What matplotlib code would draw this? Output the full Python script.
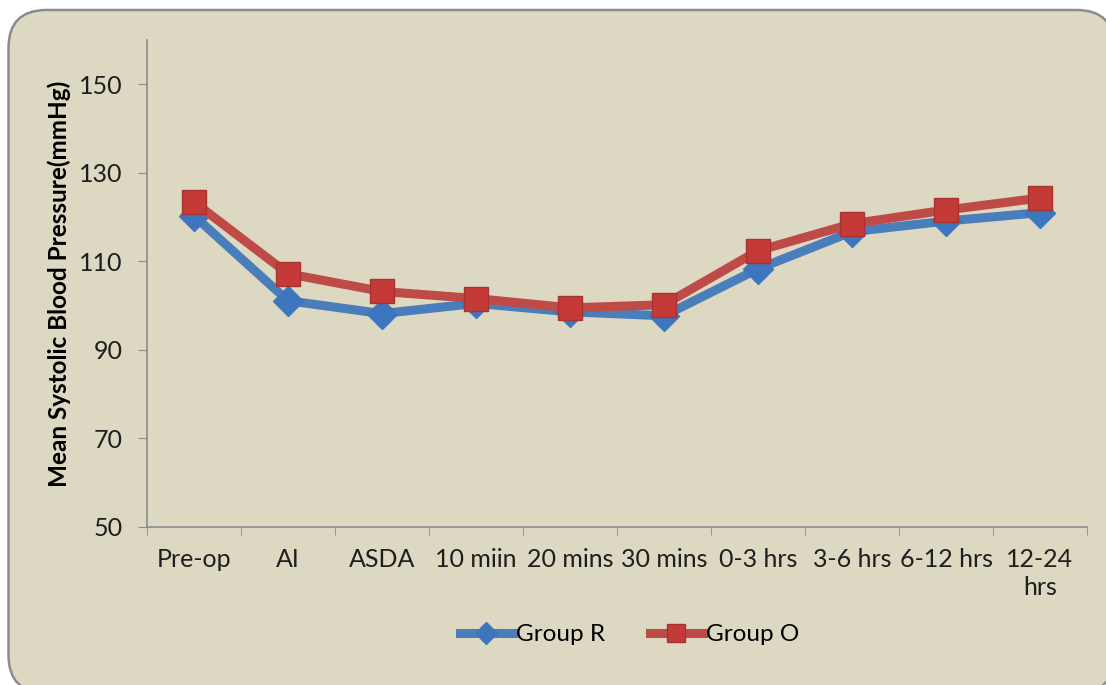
import matplotlib.pyplot as plt
import numpy as np
from matplotlib.patches import FancyBboxPatch

categories = ['Pre-op', 'AI', 'ASDA', '10 miin', '20 mins', '30 mins',
              '0-3 hrs', '3-6 hrs', '6-12 hrs', '12-24\nhrs']
group_r = [120.3, 101.1, 98.2, 100.5, 98.6, 97.7, 108.3, 116.7, 119.1, 121.0]
group_o = [123.4, 107.2, 103.2, 101.6, 99.5, 100.2, 112.4, 118.5, 121.6, 124.3]

plt.rcParams['font.family'] = ['Lato', 'DejaVu Sans']

bg = '#DDD8C2'
fig = plt.figure(figsize=(11.06, 6.85), dpi=100)
fig.patch.set_facecolor('white')

# rounded chart area frame (in inches, runs off the right/bottom edge)
frame = FancyBboxPatch((0.085, -0.08), 11.06, 6.83,
                       boxstyle='round,pad=0,rounding_size=0.38',
                       transform=fig.dpi_scale_trans, facecolor=bg,
                       edgecolor='#8C8C8C', linewidth=1.8, zorder=-1)
fig.patches.append(frame)

ax = fig.add_axes([147/1106, 1 - 527/685, (1087 - 147)/1106, (527 - 40)/685])
ax.patch.set_alpha(0)

x = np.arange(len(categories))
ax.plot(x, group_r, color='#4A7EBB', lw=6.5, marker='D', ms=15,
        mfc='#3D75BE', mec='#3D75BE', label='Group R', zorder=3)
ax.plot(x, group_o, color='#BE4B48', lw=6.5, marker='s', ms=17,
        mfc='#C43A37', mec='#A83230', mew=1, label='Group O', zorder=4)

ax.set_xlim(-0.5, len(categories) - 0.5)
ax.set_ylim(50, 160)
ax.set_yticks(np.arange(50, 151, 20))
ax.set_xticks(x)
ax.set_xticklabels(categories, fontsize=18, color='#1E1E1E', linespacing=1.25)
ax.set_xticks(np.arange(-0.5, len(categories), 1), minor=True)
ax.tick_params(axis='x', which='major', length=0, pad=15)
ax.tick_params(axis='x', which='minor', length=6, color='#8C8C8C')
ax.tick_params(axis='y', length=6.5, color='#8C8C8C', labelsize=18,
               labelcolor='#1E1E1E', pad=11)

for s in ['top', 'right']:
    ax.spines[s].set_visible(False)
for s in ['left', 'bottom']:
    ax.spines[s].set_color('#8C8C8C')
    ax.spines[s].set_linewidth(1.2)

ax.set_ylabel('Mean Systolic Blood Pressure(mmHg)', fontsize=17.5,
              fontweight='bold', labelpad=6)

leg = ax.legend(loc='upper center', bbox_to_anchor=(0.513, -0.155), ncol=2,
                frameon=False, fontsize=17.5, handlelength=2.2,
                handletextpad=0.1, columnspacing=1.85, markerscale=0.75)

fig.savefig('out.png', dpi=100, facecolor=fig.get_facecolor())
